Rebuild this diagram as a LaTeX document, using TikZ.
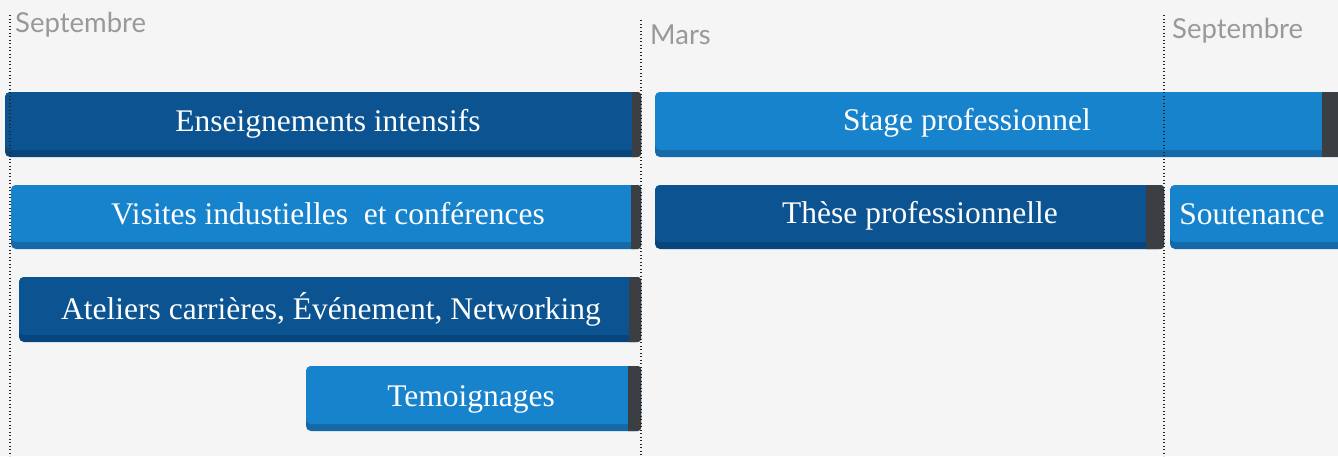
\documentclass[tikz,border=0pt]{standalone}
\usepackage{fontspec}
\usepackage{xcolor}
\setmainfont{Liberation Serif}
\newfontfamily\monthfont{Lato}
\definecolor{bgray}{HTML}{F5F5F5}
\definecolor{darkbar}{HTML}{0B5391}
\definecolor{darkshade}{HTML}{08457C}
\definecolor{lightbar}{HTML}{1783CC}
\definecolor{lightshade}{HTML}{1569A9}
\definecolor{capgray}{HTML}{3B3E42}
\definecolor{monthgray}{HTML}{999999}
\tikzset{
	bartext/.style={text=white, font=\fontsize{31.5}{31.5}\selectfont, inner sep=0pt},
	monthtext/.style={text=monthgray, font=\monthfont\fontsize{27.5}{27.5}\selectfont, anchor=west, inner sep=0pt},
	timeline/.style={black!85, line width=1.3pt, dash pattern=on 1.3pt off 2.2pt}
}

\begin{document}
\begin{tikzpicture}[x=1pt,y=-1pt]

	\fill[bgray] (0,0) rectangle (1338,456);
	\useasboundingbox (0,0) rectangle (1338,456);

	% Enseignements intensifs
	\fill[darkshade, rounded corners=5pt] (5,92) rectangle (641,157);
	\fill[darkbar, rounded corners=5pt] (5,92) rectangle (641,150);
	\fill[capgray] (632,92) [rounded corners=3pt] -- (641,92) -- (641,157) [sharp corners] -- (632,157) -- cycle;
	\node[bartext] (ens) at (328,124) {Enseignements intensifs};

	% Visites
	\fill[lightshade, rounded corners=5pt] (11,185) rectangle (641,249);
	\fill[lightbar, rounded corners=5pt] (11,185) rectangle (641,242);
	\fill[capgray] (631,185) [rounded corners=3pt] -- (641,185) -- (641,249) [sharp corners] -- (631,249) -- cycle;
	\node[bartext] (vis) at (328,214) {Visites industielles\ \ et conférences};

	% Ateliers
	\fill[darkshade, rounded corners=5pt] (19,277) rectangle (641,342);
	\fill[darkbar, rounded corners=5pt] (19,277) rectangle (641,335);
	\fill[capgray] (629,277) [rounded corners=3pt] -- (641,277) -- (641,342) [sharp corners] -- (629,342) -- cycle;
	\node[bartext] (ate) at (331,309) {Ateliers carrières, Événement, Networking};

	% Temoignages
	\fill[lightshade, rounded corners=5pt] (306,366) rectangle (641,431);
	\fill[lightbar, rounded corners=5pt] (306,366) rectangle (641,424);
	\fill[capgray] (628,366) [rounded corners=3pt] -- (641,366) -- (641,431) [sharp corners] -- (628,431) -- cycle;
	\node[bartext] (tem) at (471,399) {Temoignages};

	% Stage professionnel
	\fill[lightshade, rounded corners=5pt] (655,92) rectangle (1350,157);
	\fill[lightbar, rounded corners=5pt] (655,92) rectangle (1350,150);
	\fill[capgray] (1322,92) rectangle (1338,157);
	\node[bartext] (sta) at (967,123) {Stage professionnel};

	% These professionnelle
	\fill[darkshade, rounded corners=5pt] (655,185) rectangle (1164,249);
	\fill[darkbar, rounded corners=5pt] (655,185) rectangle (1164,242);
	\fill[capgray] (1146,185) [rounded corners=3pt] -- (1164,185) -- (1164,249) [sharp corners] -- (1146,249) -- cycle;
	\node[bartext] (the) at (920,216) {Thèse professionnelle};

	% Soutenance
	\fill[lightshade, rounded corners=5pt] (1170,185) rectangle (1350,249);
	\fill[lightbar, rounded corners=5pt] (1170,185) rectangle (1350,242);
	\node[bartext] (sou) at (1252,214) {Soutenance};

	% months
	\node[monthtext] (sep1) at (15,25) {Septembre};
	\node[monthtext] (mar) at (650,35) {Mars};
	\node[monthtext] (sep2) at (1172,31) {Septembre};

	\draw[timeline] (10,15) -- (10,456);
	\draw[timeline] (641,20) -- (641,456);
	\draw[timeline] (1164,15) -- (1164,456);
\end{tikzpicture}
\end{document}
